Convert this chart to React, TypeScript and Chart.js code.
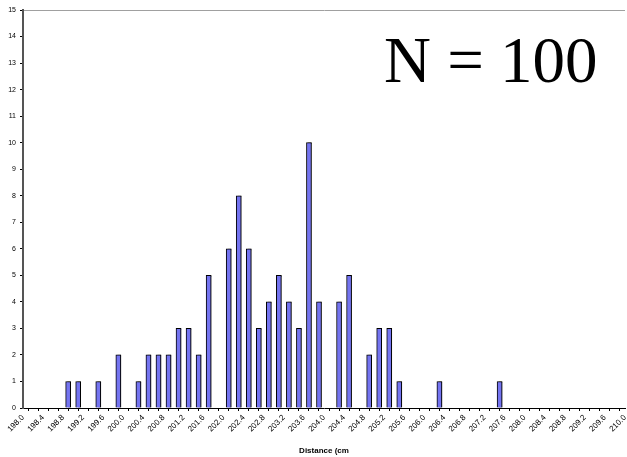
import React, { useEffect, useRef } from "react";
import { Chart, registerables } from "chart.js";

Chart.register(...registerables);

// Histogram bins (lower edge, cm) that hold at least one observation
const binStarts = [
  198.8, 199.0, 199.4, 199.8, 200.2, 200.4, 200.6, 200.8, 201.0, 201.2,
  201.4, 201.6, 202.0, 202.2, 202.4, 202.6, 202.8, 203.0, 203.2, 203.4,
  203.6, 203.8, 204.2, 204.4, 204.8, 205.0, 205.2, 205.4, 206.2, 207.4,
];
// Frequency in each bin
const counts = [
  1, 1, 1, 2, 1, 2, 2, 2, 3, 3,
  2, 5, 6, 8, 6, 3, 4, 5, 4, 3,
  10, 4, 4, 5, 2, 3, 3, 1, 1, 1,
];
const binWidth = 0.2;
const xMin = 198.0;
const xMax = 210.0;
const yMin = 0;
const yMax = 15;
// Labelled ticks on the x axis
const xTickLabels = [
  "198.0", "198.4", "198.8", "199.2", "199.6", "200.0", "200.4", "200.8",
  "201.2", "201.6", "202.0", "202.4", "202.8", "203.2", "203.6", "204.0",
  "204.4", "204.8", "205.2", "205.6", "206.0", "206.4", "206.8", "207.2",
  "207.6", "208.0", "208.4", "208.8", "209.2", "209.6", "210.0",
];
const xAxisTitle = "Distance (cm";
const annotationText = "N = 100";

const SANS = '"Liberation Sans", Arial, Helvetica, sans-serif';
const SERIF = '"Liberation Serif", "Times New Roman", serif';

export default function App() {
  const canvasRef = useRef<HTMLCanvasElement | null>(null);

  useEffect(() => {
    document.body.style.margin = "0";
    const canvas = canvasRef.current;
    if (!canvas) return;

    const points = binStarts.map((b, i) => ({ x: b + binWidth / 2, y: counts[i] }));

    const shadowPlugin = {
      id: "barShadow",
      beforeDatasetsDraw(chart: any) {
        const c = chart.ctx;
        c.save();
        c.shadowColor = "rgba(0,0,0,0.45)";
        c.shadowOffsetX = 2;
        c.shadowOffsetY = 0;
        c.shadowBlur = 0;
      },
      afterDatasetsDraw(chart: any) {
        chart.ctx.restore();
      },
    };

    const annotationPlugin = {
      id: "annotationText",
      afterDraw(chart: any) {
        const c = chart.ctx;
        c.save();
        c.font = `65px ${SERIF}`;
        c.fillStyle = "#000";
        c.textAlign = "left";
        c.textBaseline = "alphabetic";
        c.fillText(annotationText, 384, 82);
        c.restore();
      },
    };

    const chart = new Chart(canvas, {
      type: "bar",
      data: {
        datasets: [
          {
            data: points as any,
            backgroundColor: "#7474f0",
            borderColor: "#000000",
            borderWidth: 1,
            barThickness: 5,
          },
        ],
      },
      options: {
        responsive: false,
        animation: false,
        layout: { padding: { top: 10, right: 0, left: 0, bottom: 0 } },
        plugins: {
          legend: { display: false },
          tooltip: { enabled: false },
          title: { display: false },
        },
        scales: {
          x: {
            type: "linear",
            min: xMin,
            max: xMax,
            offset: false,
            afterBuildTicks: (scale: any) => {
              const ticks = [];
              const n = Math.round((xMax - xMin) / binWidth);
              for (let i = 0; i <= n; i++) {
                ticks.push({ value: Math.round((xMin + i * binWidth) * 10) / 10 });
              }
              scale.ticks = ticks;
            },
            afterFit: (scale: any) => {
              scale.height = 49;
              scale.paddingRight = 2;
            },
            grid: {
              drawOnChartArea: false,
              drawTicks: true,
              tickLength: 3,
              tickColor: "#000",
            },
            border: { display: true, color: "#000", width: 1 },
            ticks: {
              autoSkip: false,
              minRotation: 45,
              maxRotation: 45,
              padding: 2,
              color: "#000",
              font: { family: SANS, size: 8 },
              callback: (v: any) => {
                const s = Number(v).toFixed(1);
                return xTickLabels.includes(s) ? s : "";
              },
            },
            title: {
              display: true,
              text: xAxisTitle,
              color: "#000",
              font: { family: SANS, size: 8, weight: "bold" },
              padding: { top: 0, bottom: 1 },
            },
          },
          y: {
            min: yMin,
            max: yMax,
            afterFit: (scale: any) => {
              scale.width = 23;
            },
            grid: {
              color: (ctx: any) =>
                ctx.tick && ctx.tick.value === yMax ? "#a0a0a0" : "rgba(0,0,0,0)",
              drawTicks: true,
              tickLength: 3,
              tickColor: "#000",
            },
            border: { display: true, color: "#555555", width: 2 },
            ticks: {
              stepSize: 1,
              padding: 4,
              color: "#000",
              font: { family: SANS, size: 7 },
            },
          },
        },
      },
      plugins: [shadowPlugin, annotationPlugin],
    } as any);

    return () => {
      chart.destroy();
    };
  }, []);

  return (
    <div style={{ width: 627, height: 457, position: "relative", background: "#fff" }}>
      <canvas ref={canvasRef} width={627} height={457} />
    </div>
  );
}
